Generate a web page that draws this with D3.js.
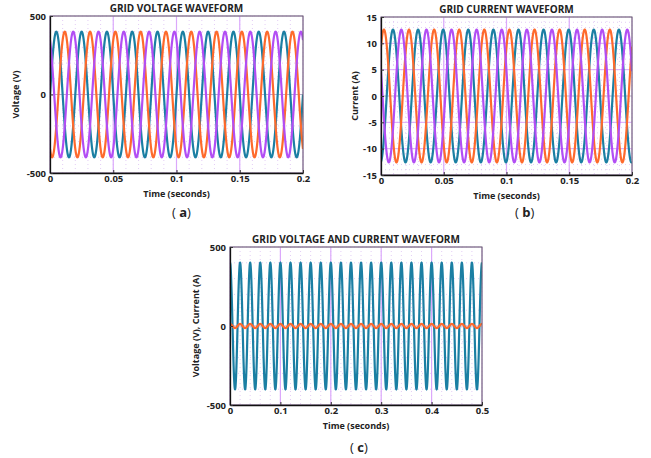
<!DOCTYPE html>
<html>
<head>
<meta charset="utf-8">
<script src="https://cdn.jsdelivr.net/npm/d3@7"></script>
<style>
  body { margin: 0; background: #fff; }
  svg { display: block; }
  text { font-family: "Open Sans", "Liberation Sans", sans-serif; fill: #222; }
</style>
</head>
<body>
<svg id="svg"></svg>
<script>
// waveform parameters (50 Hz grid)
const gridFrequency = 50;
const phaseColors = ["#1b7fa3", "#fe6a2c", "#b24ef4"];

// (a) three-phase voltage
const voltageAmplitudes = [400, 400, 400];
const voltagePhasesDeg = [0, -120, 120];

// (b) three-phase current
const currentAmplitudes = [12.6, 12.6, 12.6];
const currentPhasesDeg = [-82, 48, 158];

// (c) one phase voltage and current
const singleVoltageAmplitude = 400;
const singleVoltagePhaseDeg = 90;
const singleCurrentAmplitude = 13;
const singleCurrentPhaseDeg = 90;

// axes
const voltageTicks = [-500, 0, 500];
const currentTicks = [-15, -10, -5, 0, 5, 10, 15];
const shortTimeTicks = [0, 0.05, 0.1, 0.15, 0.2];
const longTimeTicks = [0, 0.1, 0.2, 0.3, 0.4, 0.5];

const width = 651;
const height = 458;
let svg = d3.select("#svg").attr("width", width).attr("height", height);

function wave(amp, phaseDeg, tEnd) {
    let n = 3000;
    return d3.range(n + 1).map(i => {
        let t = tEnd * i / n;
        return [t, amp * Math.sin(2 * Math.PI * gridFrequency * t + phaseDeg * Math.PI / 180)];
    });
}

function drawPanel(opt) {
    let g = svg.append("g");
    let x = d3.scaleLinear().domain(opt.xDomain).range([opt.x0, opt.x1]);
    let y = d3.scaleLinear().domain(opt.yDomain).range([opt.y1, opt.y0]);

    // minor dotted grid
    let xMinor = d3.range(opt.xDomain[0], opt.xDomain[1] + 1e-9, opt.xMinor);
    let yMinor = d3.range(opt.yDomain[0], opt.yDomain[1] + 1e-9, opt.yMinor);
    g.selectAll(".xminor").data(xMinor).join("line")
        .attr("x1", d => x(d)).attr("x2", d => x(d))
        .attr("y1", opt.y0).attr("y2", opt.y1)
        .attr("stroke", "#dcc0f2").attr("stroke-width", 0.8)
        .attr("stroke-dasharray", "1,3");
    g.selectAll(".yminor").data(yMinor).join("line")
        .attr("x1", opt.x0).attr("x2", opt.x1)
        .attr("y1", d => y(d)).attr("y2", d => y(d))
        .attr("stroke", "#dcc0f2").attr("stroke-width", 0.8)
        .attr("stroke-dasharray", "1,3");

    // major grid
    g.selectAll(".xmajor").data(opt.xTicks).join("line")
        .attr("x1", d => x(d)).attr("x2", d => x(d))
        .attr("y1", opt.y0).attr("y2", opt.y1)
        .attr("stroke", "#dba8fb").attr("stroke-width", 1.2);
    g.selectAll(".ymajor").data(opt.yTicks).join("line")
        .attr("x1", opt.x0).attr("x2", opt.x1)
        .attr("y1", d => y(d)).attr("y2", d => y(d))
        .attr("stroke", d => d === 0 ? "#b9a9c9" : "#dba8fb").attr("stroke-width", 1);

    let clipId = "clip" + opt.id;
    svg.append("clipPath").attr("id", clipId).append("rect")
        .attr("x", opt.x0).attr("y", opt.y0)
        .attr("width", opt.x1 - opt.x0).attr("height", opt.y1 - opt.y0);

    let line = d3.line().x(d => x(d[0])).y(d => y(d[1]));
    g.append("g").attr("clip-path", `url(#${clipId})`)
        .selectAll("path").data(opt.series).join("path")
        .attr("d", d => line(d.points))
        .attr("fill", "none")
        .attr("stroke", d => d.color)
        .attr("stroke-width", 2.2);

    // frame
    g.append("rect")
        .attr("x", opt.x0).attr("y", opt.y0)
        .attr("width", opt.x1 - opt.x0).attr("height", opt.y1 - opt.y0)
        .attr("fill", "none").attr("stroke", "#666").attr("stroke-width", 1);

    let fmt = d => String(d);
    let xAxis = g.append("g").attr("transform", `translate(0,${opt.y1})`)
        .call(d3.axisBottom(x).tickValues(opt.xTicks).tickFormat(fmt).tickSizeInner(-3).tickSizeOuter(0).tickPadding(2));
    let yAxis = g.append("g").attr("transform", `translate(${opt.x0},0)`)
        .call(d3.axisLeft(y).tickValues(opt.yTicks).tickFormat(fmt).tickSizeInner(-3).tickSizeOuter(0).tickPadding(4));
    for (let ax of [xAxis, yAxis]) {
        ax.select(".domain").attr("stroke", "#111").attr("stroke-width", 1.3);
        ax.selectAll(".tick line").attr("stroke", "#333");
        ax.selectAll("text").style("font-size", "9.5px").style("font-weight", "700")
            .style("font-family", '"Open Sans", sans-serif').attr("fill", "#222");
    }

    let cx = (opt.x0 + opt.x1) / 2;
    g.append("text").attr("x", cx).attr("y", opt.y0 - 4)
        .attr("text-anchor", "middle").style("font-size", "10px").style("font-weight", "700")
        .text(opt.title);
    g.append("text").attr("x", cx).attr("y", opt.y1 + 24)
        .attr("text-anchor", "middle").style("font-size", "9px").style("font-weight", "700")
        .text("Time (seconds)");
    g.append("text")
        .attr("transform", `translate(${opt.yLabelX},${(opt.y0 + opt.y1) / 2}) rotate(-90)`)
        .attr("text-anchor", "middle").style("font-size", "9px").style("font-weight", "700")
        .text(opt.yLabel);

    let cap = g.append("text").attr("x", opt.capX).attr("y", opt.capY)
        .style("font-size", "13px");
    cap.append("tspan").text("( ");
    cap.append("tspan").style("font-weight", "700").text(opt.caption);
    cap.append("tspan").text(")");
}

drawPanel({
    id: "a", x0: 50, x1: 303, y0: 16, y1: 173,
    xDomain: [0, 0.2], yDomain: [-500, 500], xTicks: shortTimeTicks, yTicks: voltageTicks,
    xMinor: 0.01, yMinor: 100,
    title: "GRID VOLTAGE WAVEFORM", yLabel: "Voltage (V)", yLabelX: 19,
    caption: "a", capX: 172, capY: 217,
    series: voltageAmplitudes.map((a, i) => ({
        color: phaseColors[i], points: wave(a, voltagePhasesDeg[i], 0.2)
    }))
});

drawPanel({
    id: "b", x0: 381, x1: 632, y0: 17, y1: 175,
    xDomain: [0, 0.2], yDomain: [-15, 15], xTicks: shortTimeTicks, yTicks: currentTicks,
    xMinor: 0.01, yMinor: 1,
    title: "GRID CURRENT WAVEFORM", yLabel: "Current (A)", yLabelX: 358,
    caption: "b", capX: 515, capY: 217,
    series: currentAmplitudes.map((a, i) => ({
        color: phaseColors[i], points: wave(a, currentPhasesDeg[i], 0.2)
    }))
});

drawPanel({
    id: "c", x0: 230, x1: 482, y0: 247, y1: 405,
    xDomain: [0, 0.5], yDomain: [-500, 500], xTicks: longTimeTicks, yTicks: voltageTicks,
    xMinor: 0.02, yMinor: 100,
    title: "GRID VOLTAGE AND CURRENT WAVEFORM", yLabel: "Voltage (V), Current (A)", yLabelX: 199,
    caption: "c", capX: 350, capY: 452,
    series: [
        { color: phaseColors[0], points: wave(singleVoltageAmplitude, singleVoltagePhaseDeg, 0.5) },
        { color: phaseColors[1], points: wave(singleCurrentAmplitude, singleCurrentPhaseDeg, 0.5) }
    ]
});
</script>
</body>
</html>
